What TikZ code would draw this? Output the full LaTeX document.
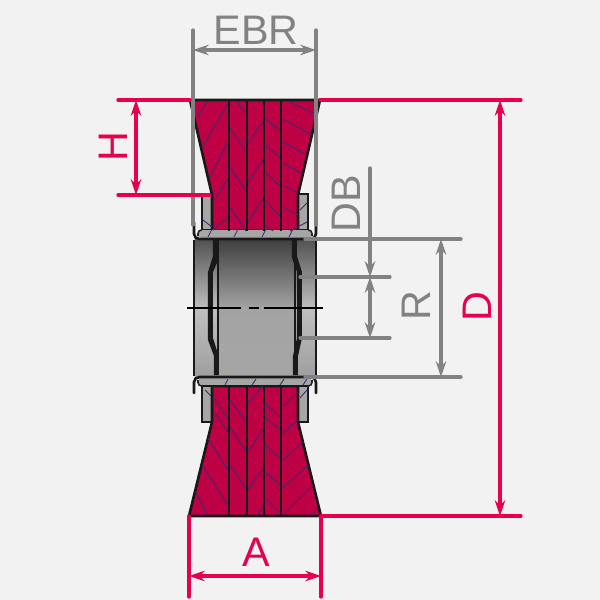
\documentclass[tikz,border=0pt]{standalone}
\usepackage{fontspec}
\setmainfont{Liberation Sans}
\usetikzlibrary{arrows.meta}
\definecolor{dimred}{HTML}{E6004F}
\definecolor{dimgray}{HTML}{828282}
\definecolor{brushred}{HTML}{BE0044}
\definecolor{hatchblue}{HTML}{3F2A6B}
\definecolor{paper}{HTML}{F2F2F2}
\tikzset{
	redline/.style={dimred,line width=1.9pt,line cap=round},
	grayline/.style={dimgray,line width=1.9pt,line cap=round},
	redarrow/.style={redline,{Stealth[length=9pt,width=6pt]}-{Stealth[length=9pt,width=6pt]}},
	grayarrow/.style={grayline,{Stealth[length=9pt,width=6pt]}-{Stealth[length=9pt,width=6pt]}},
	redlabel/.style={text=dimred,font=\fontsize{23.5}{23.5}\selectfont,inner sep=0pt},
	graylabel/.style={text=dimgray,font=\fontsize{23.5}{23.5}\selectfont,inner sep=0pt},
	outline/.style={black!90,line width=1.5pt},
	hatch/.style={hatchblue,line width=0.5pt}
}
\begin{document}
\begin{tikzpicture}[x=0.02cm,y=-0.02cm]
			\fill [paper] (0,0) rectangle (600,600);
			\useasboundingbox (0,0) rectangle (600,600);
			
			% hub
			\fill [top color=black!68,bottom color=black!38,middle color=black!25] (195,239) rectangle (315,378);
			\fill [top color=black!75,bottom color=black!35,middle color=black!36] (218,240) rectangle (294,376);
			
			% side rings
			\foreach \s/\t/\u/\v in {202/194/212/230, 298/194/308/230, 202/386/212/422, 298/386/308/422}
			{
				\draw [outline,fill=black!35] (\s,\t) rectangle (\u,\v);
			}
			
			% brush body
			\draw [outline,fill=brushred] (190,100) -- (320,100) -- (298,195) -- (298,231) -- (212,231) -- (212,195) -- cycle;
			\draw [outline,fill=brushred] (212,386) -- (298,386) -- (298,422) -- (321,516) -- (189,516) -- (212,422) -- cycle;
			
			% flanges
			\foreach \t/\v in {230/238, 378/386}
			{
				\fill [black!35,rounded corners=2pt] (198,\t) rectangle (312,\v);
			}
			\draw [black!85,line width=0.9pt,rounded corners=2pt] (198,236) -- (198,230) -- (202,230);
			\draw [black!85,line width=0.9pt,rounded corners=2pt] (312,236) -- (312,230) -- (308,230);
			\draw [black!85,line width=0.9pt,rounded corners=2pt] (198,380) -- (198,386) -- (202,386);
			\draw [black!85,line width=0.9pt,rounded corners=2pt] (312,380) -- (312,386) -- (308,386);
			\draw [outline] (202,386) -- (308,386);
			
			% hatching
			\foreach \s/\t/\u/\v in {197/118/207/102, 202/148/228/103, 210/177/228/142, 215/200/228/178, 213/230/228/217, 203/220/212/227,
				230/128/247/153, 230/167/247/192, 237/102/247/115, 230/207/246/231,
				248/143/264/120, 248/183/264/158, 248/223/263/198,
				265/118/281/132, 265/145/281/158, 265/172/281/187, 265/200/281/217, 265/225/273/231,
				283/119/312/135, 283/142/307/155, 283/163/302/174, 283/185/298/193, 290/102/313/113, 283/207/298/215, 300/210/307/203, 290/231/307/222,
				208/237/212/229, 234/237/238/229, 262/237/266/229, 289/237/293/229,
				225/385/228/379, 252/385/256/379, 280/385/284/379, 303/385/307/379,
				213/397/228/418, 230/400/246/422, 248/403/263/386, 265/403/280/417, 283/407/298/392, 205/390/211/396, 300/398/307/390,
				215/413/228/432, 208/438/228/470, 202/465/228/505, 196/493/208/515,
				230/427/247/452, 230/465/247/490, 248/452/264/428, 248/490/264/467, 257/515/264/505,
				265/417/280/430, 265/445/280/458, 265/472/280/485, 265/498/280/513,
				283/433/298/420, 283/460/303/442, 283/488/308/465, 283/515/313/485, 312/515/318/508}
			{
				\draw [hatch] (\s,\t) -- (\u,\v);
			}
			
			% strip partitions
			\foreach \s in {229,247,264,281}
			{
				\draw [black!90,line width=1.7pt] (\s,100) -- (\s,231);
				\draw [black!90,line width=1.7pt] (\s,386) -- (\s,516);
			}
			
			% hub walls
			\draw [black!90,line width=0.6pt] (194,240) -- (194,376);
			\draw [black!90,line width=0.6pt] (316,240) -- (316,376);
			\draw [outline,line cap=round,rounded corners=3pt] (194,222) -- (194,239) -- (316,239) -- (316,222);
			\draw [outline,line cap=round,rounded corners=3pt] (194,393) -- (194,377) -- (316,377) -- (316,393);
			\draw [black!90,line width=1.7pt] (218,240) -- (218,375);
			\draw [black!90,line width=1.7pt] (295,240) -- (295,375);
			\fill [black!90] (213,240) -- (219,240) -- (219,258) -- (213,272) -- (213,338) -- (218,354) -- (218,375) -- (214,375) -- (214,356) -- (208,340) -- (208,272) -- (213,256) -- cycle;
			\fill [black!90] (292,240) -- (297,240) -- (297,256) -- (302,272) -- (302,338) -- (298,356) -- (298,375) -- (293,375) -- (293,356) -- (297,338) -- (297,272) -- (292,258) -- cycle;
			
			% axis
			\draw [black,line width=0.7pt,dash pattern=on 30.6pt off 4.5pt on 5.7pt off 2.8pt on 40pt off 1pt] (187,308) -- (323,308);
			
			% gray dimensions
			\coordinate (ebrleft) at (193,50);
			\coordinate (ebrright) at (316,50);
			\coordinate (dbtop) at (370,277);
			\coordinate (dbbottom) at (370,338);
			\coordinate (rtop) at (441,239);
			\coordinate (rbottom) at (441,377);
			\draw [grayline] (193,30) -- (193,225);
			\draw [grayline] (316,30) -- (316,225);
			\draw [grayarrow] (ebrleft) -- (ebrright);
			\draw [grayline] (305,239) -- (461,239);
			\draw [grayline] (305,377) -- (461,377);
			\draw [grayline] (300,277) -- (390,277);
			\draw [grayline] (300,338) -- (390,338);
			\draw [grayarrow] (rtop) -- (rbottom);
			\draw [grayline,-{Stealth[length=9pt,width=6pt]}] (370,168) -- (dbtop);
			\draw [grayarrow] (dbtop) -- (dbbottom);
			
			% red dimensions
			\coordinate (htop) at (136,100);
			\coordinate (hbottom) at (136,195);
			\coordinate (dtop) at (500,100);
			\coordinate (dbottom) at (500,516);
			\coordinate (aleft) at (189,576);
			\coordinate (aright) at (321,576);
			\draw [redline] (118,100) -- (190,100);
			\draw [redline] (320,100) -- (521,100);
			\draw [redline] (118,195) -- (210,195);
			\draw [redline] (321,516) -- (521,516);
			\draw [redline] (189,516) -- (189,597);
			\draw [redline] (321,516) -- (321,597);
			\draw [redarrow] (htop) -- (hbottom);
			\draw [redarrow] (dtop) -- (dbottom);
			\draw [redarrow] (aleft) -- (aright);
			
			\node [graylabel] (ebrlabel) at (256,30) {EBR};
			\node [graylabel,rotate=90] (dblabel) at (346,204) {DB};
			\node [graylabel,rotate=90] (rlabel) at (416,306) {R};
			\node [redlabel,rotate=90] (hlabel) at (113,147) {H};
			\node [redlabel,rotate=90] (dlabel) at (477,307) {D};
			\node [redlabel] (alabel) at (256,552) {A};
			
		\end{tikzpicture}
\end{document}
